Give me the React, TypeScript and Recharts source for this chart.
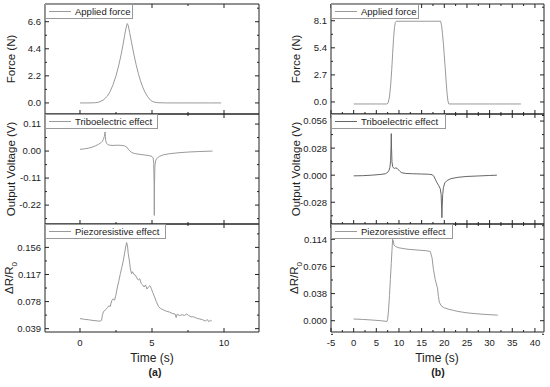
import React from "react";
import { LineChart, Line, XAxis, YAxis } from "recharts";

// (a) applied force
const forceATime = [0, 0.5, 1.0, 1.3, 1.6, 1.9, 2.1, 2.3, 2.5, 2.7, 2.85, 3.0, 3.1, 3.2, 3.28, 3.35, 3.45, 3.6, 3.75, 3.9, 4.05, 4.2, 4.35, 4.5, 4.7, 4.9, 5.1, 5.4, 6, 7, 8, 9, 9.8];
const forceAValue = [0, 0, 0.01, 0.06, 0.22, 0.55, 0.95, 1.5, 2.2, 3.1, 3.9, 4.8, 5.5, 6.1, 6.45, 6.3, 5.7, 4.8, 3.9, 3.1, 2.4, 1.8, 1.3, 0.9, 0.5, 0.22, 0.08, 0.02, 0, 0, 0, 0, 0];

// (a) triboelectric
const triboATime = [0, 0.3, 0.6, 0.9, 1.1, 1.3, 1.45, 1.55, 1.63, 1.68, 1.72, 1.74, 1.76, 1.79, 1.84, 1.92, 2.05, 2.3, 2.6, 2.9, 3.1, 3.25, 3.35, 3.45, 3.6, 3.8, 4.1, 4.5, 4.85, 5.0, 5.08, 5.12, 5.15, 5.16, 5.17, 5.2, 5.25, 5.32, 5.5, 5.8, 6.2, 6.8, 7.5, 8.2, 9.2];
const triboAValue = [0.007, 0.009, 0.012, 0.017, 0.022, 0.028, 0.034, 0.04, 0.048, 0.058, 0.07, 0.078, 0.06, 0.042, 0.032, 0.027, 0.024, 0.023, 0.024, 0.023, 0.021, 0.016, 0.008, 0.001, -0.006, -0.01, -0.013, -0.016, -0.019, -0.022, -0.028, -0.05, -0.15, -0.262, -0.15, -0.06, -0.04, -0.031, -0.022, -0.015, -0.011, -0.007, -0.004, -0.002, 0.0];

// (a) piezoresistive
const piezoATime = [0.0, 0.3, 0.6, 0.9, 1.2, 1.4, 1.5, 1.55, 1.62, 1.75, 1.9, 2.0, 2.1, 2.2, 2.3, 2.4, 2.5, 2.6, 2.7, 2.8, 2.9, 3.0, 3.1, 3.18, 3.24, 3.3, 3.35, 3.42, 3.5, 3.58, 3.65, 3.75, 3.85, 3.95, 4.05, 4.15, 4.25, 4.35, 4.45, 4.55, 4.65, 4.75, 4.85, 4.95, 5.05, 5.15, 5.3, 5.45, 5.6, 5.8, 6.0, 6.2, 6.4, 6.6, 6.68, 6.75, 6.9, 7.1, 7.25, 7.4, 7.55, 7.7, 7.9, 8.1, 8.3, 8.5, 8.7, 8.85, 8.95, 9.05, 9.15];
const piezoAValue = [0.0535, 0.0525, 0.0518, 0.0508, 0.0502, 0.0498, 0.051, 0.058, 0.063, 0.066, 0.069, 0.072, 0.071, 0.079, 0.082, 0.08, 0.088, 0.099, 0.108, 0.118, 0.127, 0.136, 0.148, 0.158, 0.163, 0.158, 0.147, 0.138, 0.125, 0.118, 0.121, 0.117, 0.116, 0.112, 0.109, 0.111, 0.104, 0.102, 0.099, 0.102, 0.096, 0.099, 0.101, 0.097, 0.091, 0.086, 0.078, 0.071, 0.068, 0.066, 0.064, 0.063, 0.061, 0.06, 0.055, 0.06, 0.058, 0.059, 0.058, 0.06, 0.058, 0.056, 0.056, 0.054, 0.053, 0.052, 0.05, 0.052, 0.049, 0.051, 0.05];

// (b) applied force
const forceBTime = [0, 5, 7.3, 7.6, 7.9, 8.15, 8.4, 8.6, 8.8, 9.0, 9.2, 9.4, 12, 16, 19.2, 19.4, 19.6, 19.8, 20.0, 20.2, 20.4, 20.6, 20.8, 21.0, 25, 30, 36.9];
const forceBValue = [-0.2, -0.2, -0.2, -0.1, 0.5, 1.6, 3.2, 4.8, 6.3, 7.4, 7.95, 8.05, 8.05, 8.05, 8.05, 7.6, 6.8, 5.8, 4.6, 3.4, 2.1, 0.9, 0.1, -0.2, -0.2, -0.2, -0.2];

// (b) triboelectric
const triboBTime = [0, 2, 4, 6, 7, 7.5, 7.8, 8.0, 8.15, 8.25, 8.3, 8.36, 8.45, 8.6, 8.8, 9.0, 9.3, 9.6, 9.9, 10.2, 10.6, 11.5, 13, 15, 16.5, 17.3, 17.7, 18.0, 18.4, 18.8, 19.1, 19.3, 19.42, 19.47, 19.53, 19.65, 19.8, 20.1, 20.6, 21.5, 23, 25, 27.5, 30, 31.6];
const triboBValue = [-0.0007, -0.0005, 0.0, 0.0008, 0.0015, 0.003, 0.005, 0.008, 0.015, 0.03, 0.043, 0.028, 0.014, 0.009, 0.0075, 0.007, 0.0075, 0.007, 0.0055, 0.004, 0.0025, 0.0018, 0.0015, 0.0012, 0.001, 0.0005, -0.001, -0.004, -0.008, -0.011, -0.014, -0.02, -0.035, -0.044, -0.033, -0.02, -0.013, -0.008, -0.0055, -0.0035, -0.0022, -0.0013, -0.0008, -0.0003, 0.0];

// (b) piezoresistive
const piezoBTime = [0, 2, 4, 6, 7.35, 7.5, 7.7, 7.9, 8.1, 8.3, 8.45, 8.6, 8.75, 8.9, 9.2, 10, 12, 14, 16, 16.9, 17.3, 17.6, 18.0, 18.3, 18.5, 18.7, 18.9, 19.3, 20, 21, 22, 23, 24, 25, 27, 29, 31.8];
const piezoBValue = [0.0024, 0.0018, 0.001, 0.0, -0.001, 0.002, 0.015, 0.035, 0.058, 0.08, 0.098, 0.114, 0.112, 0.106, 0.104, 0.102, 0.1, 0.099, 0.098, 0.097, 0.088, 0.072, 0.058, 0.05, 0.046, 0.034, 0.026, 0.021, 0.018, 0.016, 0.0145, 0.013, 0.012, 0.011, 0.0098, 0.0088, 0.0078];

// axis ticks
const xTicksA = [0, 2.5, 5, 7.5, 10];
const xMajorA = [0, 5, 10];
const xTicksB = [-5, -2.5, 0, 2.5, 5, 7.5, 10, 12.5, 15, 17.5, 20, 22.5, 25, 27.5, 30, 32.5, 35, 37.5, 40];
const xMajorB = [-5, 0, 5, 10, 15, 20, 25, 30, 35, 40];

const yTicksForceA = [0, 1.1, 2.2, 3.3, 4.4, 5.5, 6.6, 7.7];
const yMajorForceA = [0, 2.2, 4.4, 6.6];
const yTicksTriboA = [-0.275, -0.22, -0.165, -0.11, -0.055, 0, 0.055, 0.11];
const yMajorTriboA = [-0.22, -0.11, 0, 0.11];
const yTicksPiezoA = [0.039, 0.0585, 0.078, 0.0975, 0.117, 0.1365, 0.156, 0.1755];
const yMajorPiezoA = [0.039, 0.078, 0.117, 0.156];

const yTicksForceB = [-1.35, 0, 1.35, 2.7, 4.05, 5.4, 6.75, 8.1, 9.45];
const yMajorForceB = [0, 2.7, 5.4, 8.1];
const yTicksTriboB = [-0.042, -0.028, -0.014, 0, 0.014, 0.028, 0.042, 0.056];
const yMajorTriboB = [-0.028, 0, 0.028, 0.056];
const yTicksPiezoB = [-0.019, 0, 0.019, 0.038, 0.057, 0.076, 0.095, 0.114, 0.133];
const yMajorPiezoB = [0, 0.038, 0.076, 0.114];

const FONT = "Arial, 'Liberation Sans', sans-serif";
const FRAME = "#222";
const GREY = "#9a9a9a";

const zip = (t: number[], v: number[]) => t.map((x, i) => ({ t: x, v: v[i] }));
const has = (list: number[], v: number) => list.some((m) => Math.abs(m - v) < 1e-9);

const yLeftTick = (majors: number[], digits: number) => (p: any) => {
  const major = has(majors, p.payload.value);
  return (
    <g>
      <line x1={p.x} x2={p.x + (major ? 4 : 2)} y1={p.y} y2={p.y} stroke={FRAME} />
      {major && (
        <text x={p.x - 4} y={p.y} dy={3.4} textAnchor="end" fontSize={9.5} fontFamily={FONT} fill="#222">
          {p.payload.value.toFixed(digits)}
        </text>
      )}
    </g>
  );
};

const yRightTick = (majors: number[]) => (p: any) => {
  const major = has(majors, p.payload.value);
  return <line x1={p.x} x2={p.x - (major ? 4 : 2)} y1={p.y} y2={p.y} stroke={FRAME} />;
};

const xBottomTick = (majors: number[], labels: boolean) => (p: any) => {
  const major = has(majors, p.payload.value);
  return (
    <g>
      <line x1={p.x} x2={p.x} y1={p.y} y2={p.y - (major ? 4 : 2)} stroke={FRAME} />
      {labels && major && (
        <text x={p.x} y={p.y + 13.5} textAnchor="middle" fontSize={9.5} fontFamily={FONT} fill="#222">
          {String(p.payload.value)}
        </text>
      )}
    </g>
  );
};

const xTopTick = (majors: number[]) => (p: any) => {
  const major = has(majors, p.payload.value);
  return <line x1={p.x} x2={p.x} y1={p.y} y2={p.y + (major ? 4 : 2)} stroke={FRAME} />;
};

interface PanelProps {
  left: number;
  top: number;
  height: number;
  bottomH: number;
  data: { t: number; v: number }[];
  xDomain: [number, number];
  xTicks: number[];
  xMajor: number[];
  xLabels: boolean;
  yDomain: [number, number];
  yTicks: number[];
  yMajor: number[];
  digits: number;
  yWidth: number;
  color: string;
  legend: string;
  legendW: number;
}

function Panel(p: PanelProps) {
  const width = 262;
  return (
    <div style={{ position: "absolute", left: p.left, top: p.top, width, height: p.height }}>
      <LineChart width={width} height={p.height} data={p.data} margin={{ top: 2, right: 0, bottom: 0, left: 0 }}>
        <XAxis
          xAxisId="b"
          dataKey="t"
          type="number"
          domain={p.xDomain}
          ticks={p.xTicks}
          interval={0}
          allowDataOverflow
          height={p.bottomH}
          tickSize={0}
          tickMargin={0}
          tickLine={false}
          axisLine={{ stroke: FRAME }}
          tick={xBottomTick(p.xMajor, p.xLabels)}
        />
        <XAxis
          xAxisId="t"
          orientation="top"
          dataKey="t"
          type="number"
          domain={p.xDomain}
          ticks={p.xTicks}
          interval={0}
          allowDataOverflow
          height={2}
          tickSize={0}
          tickMargin={0}
          tickLine={false}
          axisLine={{ stroke: FRAME }}
          tick={xTopTick(p.xMajor)}
        />
        <YAxis
          yAxisId="l"
          type="number"
          domain={p.yDomain}
          ticks={p.yTicks}
          interval={0}
          allowDataOverflow
          width={p.yWidth}
          tickSize={0}
          tickMargin={0}
          tickLine={false}
          axisLine={{ stroke: FRAME }}
          tick={yLeftTick(p.yMajor, p.digits)}
        />
        <YAxis
          yAxisId="r"
          orientation="right"
          type="number"
          domain={p.yDomain}
          ticks={p.yTicks}
          interval={0}
          allowDataOverflow
          width={3}
          tickSize={0}
          tickMargin={0}
          tickLine={false}
          axisLine={{ stroke: FRAME }}
          tick={yRightTick(p.yMajor)}
        />
        <Line
          xAxisId="b"
          yAxisId="l"
          dataKey="v"
          type="linear"
          stroke={p.color}
          strokeWidth={1}
          dot={false}
          isAnimationActive={false}
        />
      </LineChart>
      <div
        style={{
          position: "absolute",
          left: p.yWidth,
          top: 4,
          width: p.legendW,
          height: 15,
          boxSizing: "border-box",
          border: "1px solid #999",
          background: "#fff",
          fontFamily: FONT,
          fontSize: 9.5,
          color: "#222",
          lineHeight: "13px",
          whiteSpace: "nowrap",
        }}
      >
        <span style={{ position: "absolute", left: 3, top: 6, width: 22, height: 1, background: p.color }} />
        <span style={{ position: "absolute", left: 29, top: 0 }}>{p.legend}</span>
      </div>
    </div>
  );
}

const titleStyle = (cx: number, cy: number): React.CSSProperties => ({
  position: "absolute",
  left: cx,
  top: cy,
  transform: "translate(-50%, -50%) rotate(-90deg)",
  fontFamily: FONT,
  fontSize: 11.5,
  color: "#222",
  whiteSpace: "nowrap",
});

const textStyle = (cx: number, cy: number, bold = false): React.CSSProperties => ({
  position: "absolute",
  left: cx,
  top: cy,
  transform: "translate(-50%, -50%)",
  fontFamily: FONT,
  fontSize: bold ? 10.5 : 12,
  fontWeight: bold ? "bold" : "normal",
  color: "#222",
  whiteSpace: "nowrap",
});

export default function App() {
  const xA: [number, number] = [-2.43, 12.43];
  const xB: [number, number] = [-5, 42];
  return (
    <div style={{ position: "absolute", left: 0, top: 0, width: 550, height: 387, background: "#fff", overflow: "hidden" }}>
      {/* column (a) */}
      <Panel left={0} top={0} height={116} bottomH={2} data={zip(forceATime, forceAValue)} xDomain={xA} xTicks={xTicksA} xMajor={xMajorA} xLabels={false}
        yDomain={[-0.9, 8.04]} yTicks={yTicksForceA} yMajor={yMajorForceA} digits={1} yWidth={45} color={GREY} legend="Applied force" legendW={88} />
      <Panel left={0} top={110} height={116} bottomH={2} data={zip(triboATime, triboAValue)} xDomain={xA} xTicks={xTicksA} xMajor={xMajorA} xLabels={false}
        yDomain={[-0.297, 0.151]} yTicks={yTicksTriboA} yMajor={yMajorTriboA} digits={2} yWidth={45} color={GREY} legend="Triboelectric effect" legendW={113} />
      <Panel left={0} top={220} height={134} bottomH={22} data={zip(piezoATime, piezoAValue)} xDomain={xA} xTicks={xTicksA} xMajor={xMajorA} xLabels
        yDomain={[0.0342, 0.1897]} yTicks={yTicksPiezoA} yMajor={yMajorPiezoA} digits={3} yWidth={45} color={GREY} legend="Piezoresistive effect" legendW={121} />

      {/* column (b) */}
      <Panel left={285} top={0} height={116} bottomH={2} data={zip(forceBTime, forceBValue)} xDomain={xB} xTicks={xTicksB} xMajor={xMajorB} xLabels={false}
        yDomain={[-1.2, 9.77]} yTicks={yTicksForceB} yMajor={yMajorForceB} digits={1} yWidth={46} color={GREY} legend="Applied force" legendW={88} />
      <Panel left={285} top={110} height={116} bottomH={2} data={zip(triboBTime, triboBValue)} xDomain={xB} xTicks={xTicksB} xMajor={xMajorB} xLabels={false}
        yDomain={[-0.0505, 0.0633]} yTicks={yTicksTriboB} yMajor={yMajorTriboB} digits={3} yWidth={46} color="#666" legend="Triboelectric effect" legendW={115} />
      <Panel left={285} top={220} height={134} bottomH={22} data={zip(piezoBTime, piezoBValue)} xDomain={xB} xTicks={xTicksB} xMajor={xMajorB} xLabels
        yDomain={[-0.0158, 0.1354]} yTicks={yTicksPiezoB} yMajor={yMajorPiezoB} digits={3} yWidth={46} color={GREY} legend="Piezoresistive effect" legendW={122} />

      <div style={titleStyle(11, 59)}>Force (N)</div>
      <div style={titleStyle(11, 169)}>Output Voltage (V)</div>
      <div style={titleStyle(11, 278)}>ΔR/R<sub style={{ fontSize: 8 }}>0</sub></div>
      <div style={titleStyle(296, 59)}>Force (N)</div>
      <div style={titleStyle(296, 169)}>Output Voltage (V)</div>
      <div style={titleStyle(296, 278)}>ΔR/R<sub style={{ fontSize: 8 }}>0</sub></div>

      <div style={textStyle(152, 358)}>Time (s)</div>
      <div style={textStyle(437, 358)}>Time (s)</div>
      <div style={textStyle(155, 372, true)}>(a)</div>
      <div style={textStyle(438, 372, true)}>(b)</div>
    </div>
  );
}
